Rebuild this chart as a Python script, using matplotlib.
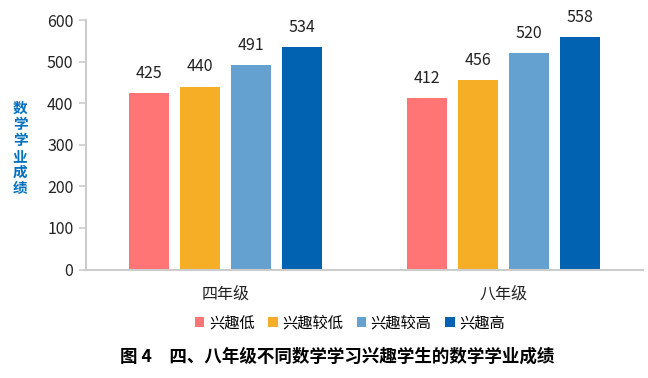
import matplotlib
matplotlib.use('Agg')
import matplotlib.pyplot as plt
import numpy as np

plt.rcParams['font.family'] = ['Noto Sans CJK SC', 'DejaVu Sans']

# 数据
grades = ['四年级', '八年级']
series_names = ['兴趣低', '兴趣较低', '兴趣较高', '兴趣高']
scores_low = [425, 412]
scores_midlow = [440, 456]
scores_midhigh = [491, 520]
scores_high = [534, 558]
colors = ['#ff7575', '#f5ae25', '#65a1d0', '#0062b0']
yticks = [0, 100, 200, 300, 400, 500, 600]

fig = plt.figure(figsize=(6.48, 3.78), dpi=100)
ax = fig.add_axes([0.1327, 0.287, 0.8596, 0.660])

x = np.arange(len(grades))
width = 0.144
step = 0.183
all_series = [scores_low, scores_midlow, scores_midhigh, scores_high]

for i, (vals, name, c) in enumerate(zip(all_series, series_names, colors)):
    pos = x + (i - 1.5) * step
    bars = ax.bar(pos, vals, width, color=c, label=name, zorder=2)
    for b, v in zip(bars, vals):
        ax.annotate(str(v), (b.get_x() + b.get_width() / 2, v),
                    xytext=(0, 8), textcoords='offset points',
                    ha='center', va='bottom', fontsize=11.5, color='#222222')

ax.set_xlim(-0.5, 1.5)
ax.set_ylim(0, 600)
ax.set_yticks(yticks)
ax.set_xticks(x)
ax.set_xticklabels(grades, fontsize=11.5, color='#222222')
ax.tick_params(axis='x', length=0, pad=12)
ax.tick_params(axis='y', length=5, width=1.2, color='#cccccc',
               labelsize=11.5, labelcolor='#222222', pad=4)
for s in ['top', 'right']:
    ax.spines[s].set_visible(False)
for s in ['left', 'bottom']:
    ax.spines[s].set_color('#cccccc')
    ax.spines[s].set_linewidth(1.5)

# 纵向坐标标题
fig.text(20 / 648, 1 - 148 / 378, '\n'.join('数学学业成绩'), ha='center', va='center',
         fontsize=10.5, fontweight='bold', color='#0070c0', linespacing=1.0)

fig.legend(loc='center', bbox_to_anchor=(350 / 648, 1 - 323 / 378), ncol=4,
           frameon=False, fontsize=11, handlelength=0.6, handleheight=0.6,
           handletextpad=0.3, columnspacing=0.9)

fig.text(337 / 648, 1 - 357 / 378, '图 4　四、八年级不同数学学习兴趣学生的数学学业成绩',
         ha='center', va='center', fontsize=12.6, fontweight='bold', color='#000000')

fig.savefig('out.png', dpi=100)
